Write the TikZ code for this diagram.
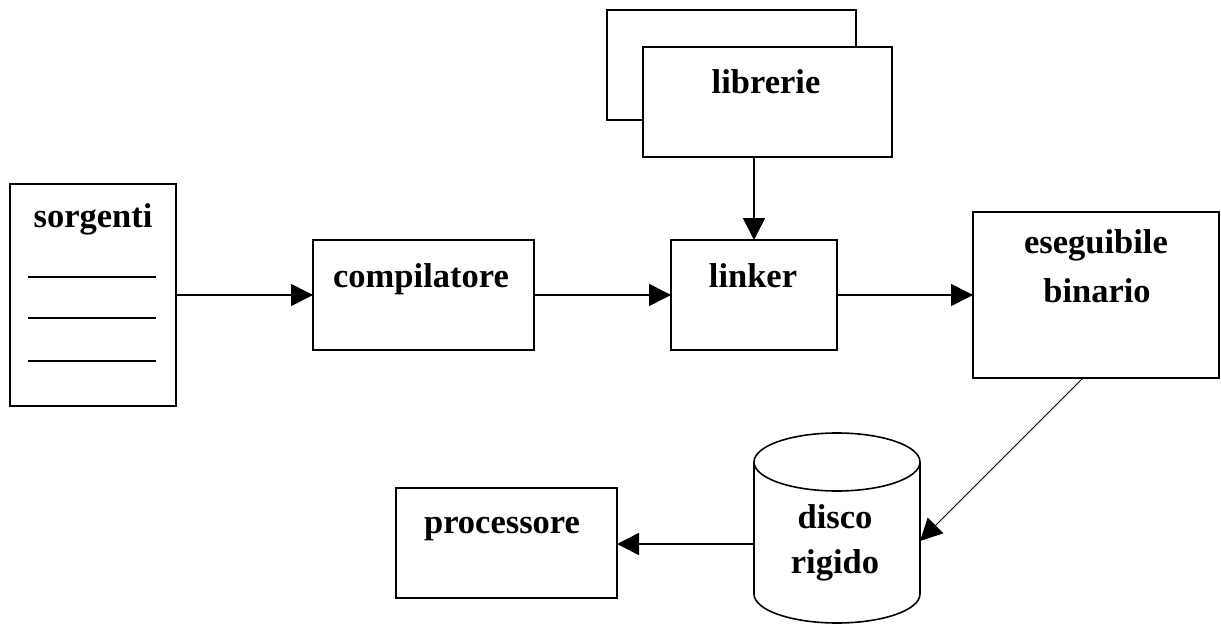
\documentclass[tikz,border=0pt]{standalone}
\usepackage{fontspec}
\setmainfont{Liberation Serif}
\usetikzlibrary{arrows.meta}
\begin{document}
\begin{tikzpicture}[x=1pt,y=-1pt,
  box/.style={draw=black,line width=2pt,fill=white,inner sep=0pt,outer sep=0pt,anchor=north west},
  lbl/.style={anchor=base,inner sep=0pt,font=\fontsize{34.5}{40}\selectfont\bfseries},
  conn/.style={line width=1.6pt,-{Triangle[length=22pt,width=22pt]}},
  thinconn/.style={line width=1pt,-{Triangle[length=22pt,width=22pt]}}]
\useasboundingbox (0,0) rectangle (1221,626);
\fill[white] (0,0) rectangle (1221,626);
% boxes
\node[box,minimum width=166pt,minimum height=222pt] (src) at (10,184) {};
\node[box,minimum width=221pt,minimum height=110pt] (comp) at (313,240) {};
\node[box,minimum width=166pt,minimum height=110pt] (link) at (671,240) {};
\node[box,minimum width=246pt,minimum height=166pt] (exe) at (973,212) {};
\node[box,minimum width=249pt,minimum height=110pt] (libback) at (607,10) {};
\node[box,minimum width=249pt,minimum height=110pt] (lib) at (643,47) {};
\node[box,minimum width=221pt,minimum height=110pt] (proc) at (396,488) {};
% source lines
\draw[line width=1.6pt] (28,277) -- (156,277);
\draw[line width=1.6pt] (28,318) -- (156,318);
\draw[line width=1.6pt] (28,361) -- (156,361);
% cylinder
\fill[white] (754,462) -- (754,594) arc[start angle=180,end angle=360,x radius=83,y radius=-29] -- (920,462) -- cycle;
\draw[line width=1.6pt] (837,462) ellipse[x radius=83,y radius=29];
\draw[line width=1.6pt] (754,462) -- (754,594) arc[start angle=180,end angle=360,x radius=83,y radius=-29] -- (920,462);
\coordinate (diskR) at (920,541);
\coordinate (diskL) at (754,544);
\coordinate (exeB) at (1083,378);
% labels
\node[lbl] (tsrc) at (93,227) {sorgenti};
\node[lbl] (tcomp) at (421,287) {compilatore};
\node[lbl] (tlink) at (753,287) {linker};
\node[lbl] (tlib) at (766,93) {librerie};
\node[lbl] (texe1) at (1096,253) {eseguibile};
\node[lbl] (texe2) at (1097,302) {binario};
\node[lbl] (tproc) at (502,533) {processore};
\node[lbl] (tdisk1) at (835,528) {disco};
\node[lbl] (tdisk2) at (835,573) {rigido};
% connectors
\draw[conn] (src.east |- 0,295) -- (comp.west |- 0,295);
\draw[conn] (comp.east |- 0,295) -- (link.west |- 0,295);
\draw[conn] (link.east |- 0,295) -- (exe.west |- 0,295);
\draw[conn] (lib.south -| 754,0) -- (link.north -| 754,0);
\draw[thinconn] (exeB) -- (diskR);
\draw[conn] (diskL) -- (proc.east |- 0,544);
\end{tikzpicture}
\end{document}
